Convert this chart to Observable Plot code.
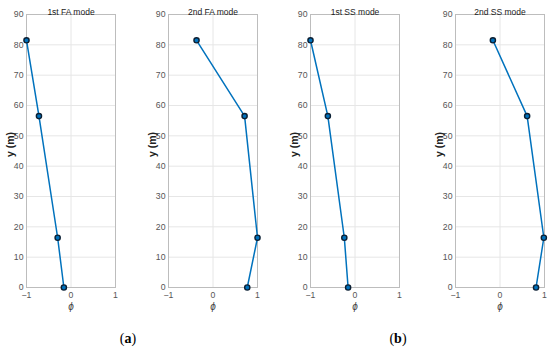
<!DOCTYPE html>
<html><head><meta charset="utf-8">
<script src="https://cdn.jsdelivr.net/npm/d3@7"></script>
<script src="https://cdn.jsdelivr.net/npm/@observablehq/plot@0.6"></script>
<style>
body{margin:0;background:#fff;}
#wrap{position:relative;width:550px;height:351px;overflow:hidden;font-family:"Liberation Sans",Arial,sans-serif;}
.panel{position:absolute;top:0;}
.cap{position:absolute;top:331px;width:40px;text-align:center;font-family:"Liberation Serif","Times New Roman",serif;font-size:14px;color:#000;}
.cap b{font-weight:bold;}
</style>
</head><body>
<div id="wrap"></div>
<script>
// Data
const heights = [81.5, 56.5, 16.4, 0];           // y (m)
const titles = ["1st FA mode", "2nd FA mode", "1st SS mode", "2nd SS mode"];
const fa1 = [-1.0, -0.72, -0.30, -0.16];
const fa2 = [-0.37, 0.71, 1.0, 0.77];
const ss1 = [-1.0, -0.61, -0.24, -0.155];
const ss2 = [-0.16, 0.61, 0.985, 0.81];
const xTicks = [-1, 0, 1];
const yTicks = [0, 10, 20, 30, 40, 50, 60, 70, 80, 90];
const captions = ["a", "b"];

const series = [fa1, fa2, ss1, ss2];
const panelLeft = [0, 142, 284, 429];
const captionX = [108, 378];

const wrap = document.getElementById("wrap");
series.forEach((vals, i) => {
  const data = vals.map((v, k) => ({x: v, y: heights[k]}));
  const chart = Plot.plot({
    width: 140, height: 317,
    marginLeft: 26, marginRight: 25, marginTop: 14, marginBottom: 30,
    style: {fontSize: "8.7px", color: "#555", background: "transparent", fontFamily: "'Liberation Sans', Arial, sans-serif", overflow: "visible"},
    x: {domain: [-1, 1], label: null},
    y: {domain: [0, 90], label: null},
    marks: [
      Plot.gridX(xTicks, {stroke: "#e6e6e6", strokeOpacity: 1}),
      Plot.gridY(yTicks, {stroke: "#e6e6e6", strokeOpacity: 1}),
      Plot.frame({stroke: "#bdbdbd"}),
      Plot.axisX(xTicks, {tickSize: 0, tickPadding: 4.5, label: null, fill: "#555"}),
      Plot.axisY(yTicks, {tickSize: 0, tickPadding: 3, label: null, fill: "#555"}),
      Plot.line(data, {x: "x", y: "y", stroke: "#0072BD", strokeWidth: 1.5}),
      Plot.dot(data, {x: "x", y: "y", r: 2.6, fill: "#0072BD", stroke: "#0b1f33", strokeWidth: 1.4}),
      Plot.text([titles[i]], {frameAnchor: "top", dy: -6, fontSize: 8.5, fill: "#222"}),
      Plot.text(["y (m)"], {frameAnchor: "left", dx: -16, dy: 6, rotate: -90, fontWeight: "bold", fontSize: 10.5, fill: "#222"}),
      Plot.text(["ϕ"], {frameAnchor: "bottom", dy: 22.5, fontStyle: "italic", fontSize: 10, fill: "#444"})
    ]
  });
  chart.classList.add("panel");
  chart.style.left = panelLeft[i] + "px";
  wrap.appendChild(chart);
});

captions.forEach((c, i) => {
  const d = document.createElement("div");
  d.className = "cap";
  d.style.left = captionX[i] + "px";
  d.innerHTML = "(<b>" + c + "</b>)";
  wrap.appendChild(d);
});
</script>
</body></html>
